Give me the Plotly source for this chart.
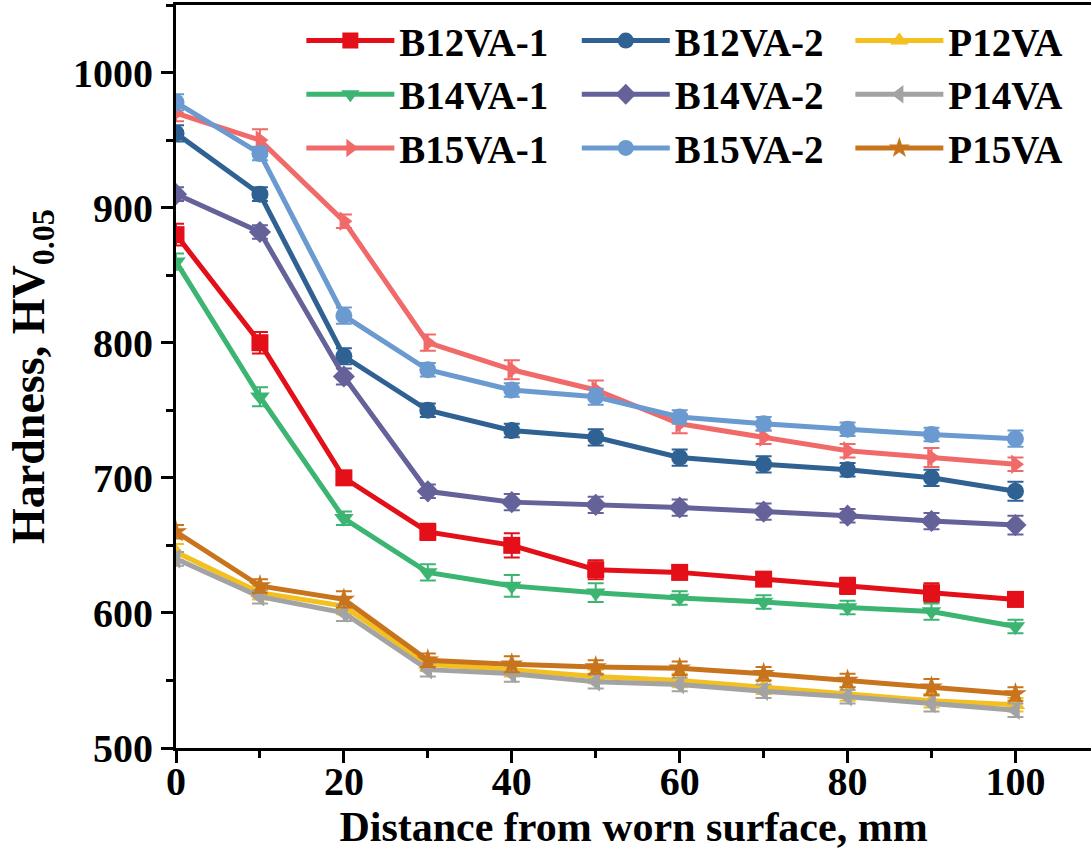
import plotly.graph_objects as go

x = [0, 10, 20, 30, 40, 50, 60, 70, 80, 90, 100]

names = ["B12VA-1", "B12VA-2", "P12VA",
         "B14VA-1", "B14VA-2", "P14VA",
         "B15VA-1", "B15VA-2", "P15VA"]

b12va_1 = [880, 800, 700, 660, 650, 632, 630, 625, 620, 615, 610]
b12va_2 = [955, 910, 790, 750, 735, 730, 715, 710, 706, 700, 690]
p12va = [645, 615, 605, 562, 558, 553, 550, 545, 540, 535, 532]
b14va_1 = [860, 760, 670, 630, 620, 615, 611, 608, 604, 601, 590]
b14va_2 = [910, 882, 775, 690, 682, 680, 678, 675, 672, 668, 665]
p14va = [640, 612, 600, 558, 555, 549, 547, 542, 538, 533, 528]
b15va_1 = [970, 950, 890, 800, 780, 765, 740, 730, 720, 715, 710]
b15va_2 = [978, 940, 820, 780, 765, 760, 745, 740, 736, 732, 729]
p15va = [660, 620, 610, 565, 562, 560, 559, 555, 550, 545, 540]

err_b12va_1 = [8, 8, 5, 6, 9, 7, 5, 5, 6, 7, 5]
err_b12va_2 = [6, 5, 6, 5, 5, 6, 6, 6, 5, 6, 7]
err_p12va = [6, 5, 6, 5, 5, 5, 5, 5, 5, 5, 5]
err_b14va_1 = [6, 7, 5, 6, 8, 7, 5, 5, 5, 6, 5]
err_b14va_2 = [5, 5, 6, 5, 6, 6, 6, 6, 5, 6, 7]
err_p14va = [5, 5, 6, 5, 6, 5, 5, 5, 5, 6, 5]
err_b15va_1 = [6, 8, 5, 6, 7, 7, 7, 5, 5, 7, 5]
err_b15va_2 = [6, 5, 6, 5, 5, 6, 5, 5, 5, 5, 6]
err_p15va = [5, 5, 6, 5, 6, 5, 5, 5, 5, 6, 5]

series = [b12va_1, b12va_2, p12va, b14va_1, b14va_2, p14va, b15va_1, b15va_2, p15va]
errors = [err_b12va_1, err_b12va_2, err_p12va, err_b14va_1, err_b14va_2,
          err_p14va, err_b15va_1, err_b15va_2, err_p15va]
colors = ["#E3101A", "#2F6192", "#F4C020", "#3CB572", "#65629A",
          "#A3A3A3", "#F16A6A", "#6A9AD0", "#C8741C"]
symbols = ["square", "circle", "triangle-up", "triangle-down", "diamond",
           "triangle-left", "triangle-right", "circle", "star"]
legend_ids = ["legend", "legend2", "legend3"] * 3

fig = go.Figure()
for nm, ys, es, c, s, lg in zip(names, series, errors, colors, symbols, legend_ids):
    fig.add_trace(go.Scatter(
        x=x, y=ys, name=nm, mode="lines+markers", legend=lg,
        line=dict(color=c, width=5),
        marker=dict(symbol=s, size=17, color=c),
        error_y=dict(type="data", array=es, visible=True, color=c,
                     thickness=2, width=8),
    ))

FF = "Liberation Serif"
legend_font = dict(family=FF, size=39, color="black", weight="bold")


def make_legend(xpos):
    return dict(
        orientation="v", x=xpos, y=0.995, xanchor="left", yanchor="top",
        font=legend_font, bgcolor="rgba(0,0,0,0)", tracegroupgap=0,
        itemwidth=88,
    )


fig.update_layout(
    width=1091, height=867,
    paper_bgcolor="white", plot_bgcolor="white",
    margin=dict(l=176, r=0, t=5, b=119),
    font=dict(family=FF, color="black", size=40),
    showlegend=True,
    legend=make_legend(0.137),
    legend2=make_legend(0.438),
    legend3=make_legend(0.737),
    xaxis=dict(
        range=[0, 109], tickmode="array", tickvals=[0, 20, 40, 60, 80, 100],
        ticks="outside", ticklen=12, tickwidth=3, tickcolor="black",
        showline=True, linewidth=3, linecolor="black", mirror=True,
        showgrid=False, zeroline=False, ticklabelstandoff=-16,
        tickfont=dict(family=FF, size=40, color="black", weight="bold"),
        minor=dict(tickvals=[10, 30, 50, 70, 90], ticks="outside", ticklen=7,
                   tickwidth=3, tickcolor="black", showgrid=False),
        title=dict(text="Distance from worn surface, mm", standoff=2,
                   font=dict(family=FF, size=42, color="black", weight="bold")),
    ),
    yaxis=dict(
        range=[500, 1050], tickmode="array", tickvals=[500, 600, 700, 800, 900, 1000],
        ticks="outside", ticklen=12, tickwidth=3, tickcolor="black",
        showline=True, linewidth=3, linecolor="black",
        showgrid=False, zeroline=False,
        tickfont=dict(family=FF, size=40, color="black", weight="bold"),
        minor=dict(tickvals=[550, 650, 750, 850, 950, 1050], ticks="outside", ticklen=7,
                   tickwidth=3, tickcolor="black", showgrid=False),
        title=dict(text="Hardness, HV<sub>0.05</sub>", standoff=14,
                   font=dict(family=FF, size=46, color="black", weight="bold")),
    ),
)

fig.write_html("out.html")
